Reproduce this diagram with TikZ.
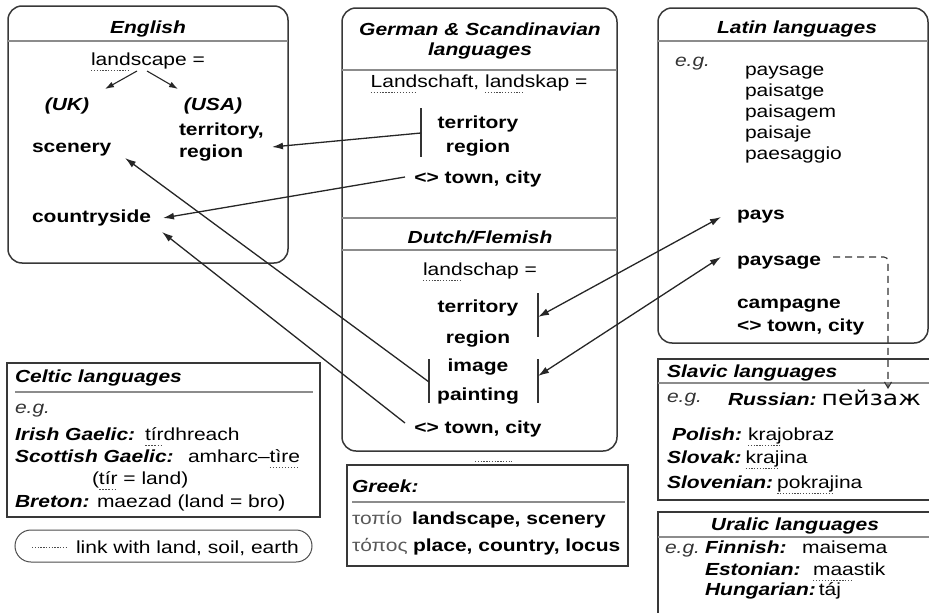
\documentclass[tikz,border=0pt]{standalone}
\usepackage{fontspec}
\setmainfont{Liberation Sans}[FakeStretch=1.2]
\newfontfamily\cyrfont{DejaVu Sans}[FakeStretch=1.22]
\usetikzlibrary{arrows.meta}
% dotted underline marking the part of a word that is linked with "land"
\newsavebox\landbox
\newcommand\landlink[1]{\leavevmode\sbox\landbox{#1}%
  \rlap{\lower5.5pt\hbox to\wd\landbox{\color{black!70}%
    \xleaders\hbox{\rule{1.3pt}{0.9pt}\kern1.5pt}\hfill}}%
  \usebox\landbox}

\begin{document}
\begin{tikzpicture}[x=1pt,y=-1pt,
  every node/.style={inner sep=0pt, outer sep=0pt},
  box/.style={draw=black!78, line width=1.5pt},
  rbox/.style={box, rounded corners=14pt},
  sep/.style={draw=black!45, line width=1.3pt},
  title/.style={font=\fontsize{17.5}{21}\selectfont\bfseries\itshape},
  term/.style={font=\fontsize{17.5}{21}\selectfont\bfseries},
  word/.style={font=\fontsize{17.5}{21}\selectfont},
  eg/.style={font=\fontsize{17.5}{21}\selectfont\itshape, text=black!80},
  greekw/.style={font=\fontsize{17.5}{21}\selectfont, text=black!65},
  bar/.style={draw=black!80, line width=1.3pt},
  link/.style={draw=black!85, line width=1.3pt},
  tip/.style={-{Latex[length=11pt,width=7pt]}},
  both/.style={{Latex[length=11pt,width=7pt]}-{Latex[length=11pt,width=7pt]}},
  land/.style={draw=black!70, line width=0.9pt, dash pattern=on 1.3pt off 1.5pt},
]
\useasboundingbox (0,0) rectangle (929,613);
\clip (0,0) rectangle (929,613);

% ---------- English ----------
\draw[rbox] (8,6) rectangle (288,263);
\draw[sep] (8,41) -- (288,41);
\node[title, anchor=base] (engT) at (148,33) {English};
\node[word, anchor=base] (engL) at (148,65) {\landlink{land}scape =};
\node[title, anchor=base] (uk) at (67,110) {(UK)};
\node[title, anchor=base] (usa) at (213,110) {(USA)};
\coordinate (ukA) at (137,71);
\coordinate (ukB) at (105,89);
\coordinate (usA) at (147,71);
\coordinate (usB) at (178,89);
\draw[link, line width=1.1pt, -{Latex[length=9pt,width=6pt]}] (ukA) -- (ukB);
\draw[link, line width=1.1pt, -{Latex[length=9pt,width=6pt]}] (usA) -- (usB);
\node[term, anchor=base west] (eterr) at (179,135) {territory,};
\node[term, anchor=base west] (ereg) at (179,157) {region};
\node[term, anchor=base west] (escen) at (32,152) {scenery};
\node[term, anchor=base west] (ecount) at (32,222) {countryside};

% ---------- German & Scandinavian / Dutch ----------
\draw[rbox] (342,8) rectangle (617,451);
\node[title, anchor=base] (gT1) at (480,35) {German \& Scandinavian};
\node[title, anchor=base] (gT2) at (480,55) {languages};
\draw[sep] (342,70) -- (617,70);
\node[word, anchor=base] (gL) at (479,87) {\landlink{Land}schaft, \landlink{land}skap =};
\draw[bar] (421,108) -- (421,157);
\node[term, anchor=base] (gterr) at (478,128) {territory};
\node[term, anchor=base] (greg) at (478,152) {region};
\node[term, anchor=base] (gtown) at (478,183) {<> town, city};

\draw[sep] (342,218) -- (617,218);
\draw[sep] (342,250) -- (617,250);
\node[title, anchor=base] (dT) at (480,243) {Dutch/Flemish};
\node[word, anchor=base] (dL) at (480,275) {\landlink{land}schap =};
\node[term, anchor=base] (dterr) at (478,312) {territory};
\node[term, anchor=base] (dreg) at (478,343) {region};
\node[term, anchor=base] (dimg) at (478,371) {image};
\node[term, anchor=base] (dpaint) at (478,400) {painting};
\node[term, anchor=base] (dtown) at (478,433) {<> town, city};
\draw[bar] (538,293) -- (538,337);
\draw[bar] (538,359) -- (538,403);
\draw[bar] (429,359) -- (429,403);
\draw[land] (475,461) -- (512,461);

% ---------- Latin ----------
\draw[rbox] (658,8) rectangle (928,343);
\node[title, anchor=base] (lT) at (797,33) {Latin languages};
\draw[sep] (658,41) -- (928,41);
\node[eg, anchor=base west] (leg) at (675,66) {e.g.};
\node[word, anchor=base west] (l1) at (745,75) {paysage};
\node[word, anchor=base west] (l2) at (745,96) {paisatge};
\node[word, anchor=base west] (l3) at (745,117) {paisagem};
\node[word, anchor=base west] (l4) at (745,138) {paisaje};
\node[word, anchor=base west] (l5) at (745,159) {paesaggio};
\node[term, anchor=base west] (lpays) at (737,219) {pays};
\node[term, anchor=base west] (lpaysage) at (737,265) {paysage};
\node[term, anchor=base west] (lcamp) at (737,308) {campagne};
\node[term, anchor=base west] (ltown) at (737,331) {<> town, city};

% ---------- Celtic ----------
\draw[box] (7,363) rectangle (320,517);
\draw[sep] (15,392) -- (313,392);
\node[title, anchor=base west] (cT) at (15,382) {Celtic languages};
\node[eg, anchor=base west] (ceg) at (15,413) {e.g.};
\node[title, anchor=base west] (cirl) at (15,440) {Irish Gaelic:};
\node[word, anchor=base west] (cirw) at (145,440) {\landlink{tír}dhreach};
\node[title, anchor=base west] (csco) at (15,462) {Scottish Gaelic:};
\node[word, anchor=base west] (cscw) at (188,462) {amharc–\landlink{tìre}};
\node[word, anchor=base west] (ctir) at (92,484) {(\landlink{tír} = land)};
\node[title, anchor=base west] (cbre) at (15,507) {Breton:};
\node[word, anchor=base west] (cbrw) at (97,507) {maezad (land = bro)};

% ---------- legend ----------
\draw[draw=black!70, line width=1pt, rounded corners=16pt] (15,530) rectangle (312,562);
\draw[land] (32,547) -- (68,547);
\node[word, anchor=base west] (legend) at (76,553) {link with land, soil, earth};

% ---------- Greek ----------
\draw[box] (347,465) rectangle (628,566);
\draw[sep] (352,502) -- (625,502);
\node[title, anchor=base west] (grT) at (352,492) {Greek:};
\node[greekw, anchor=base west] (gr1) at (352,524) {τοπίο};
\node[term, anchor=base west] (gr1m) at (412,524) {landscape, scenery};
\node[greekw, anchor=base west] (gr2) at (352,551) {τόπος};
\node[term, anchor=base west] (gr2m) at (413,551) {place, country, locus};

% ---------- Slavic ----------
\draw[box] (940,359) -- (658,359) -- (658,500) -- (940,500);
\draw[sep] (658,383) -- (940,383);
\node[title, anchor=base west] (sT) at (667,377) {Slavic languages};
\node[eg, anchor=base west] (seg) at (667,402) {e.g.};
\node[title, anchor=base west] (sru) at (728,405) {Russian:};
\node[font=\fontsize{20.5}{24}\selectfont\cyrfont, anchor=base west] (sruw) at ([xshift=5pt]sru.base east) {пейзаж};
\node[title, anchor=base west] (spl) at (672,440) {Polish:};
\node[word, anchor=base west] (splw) at (748,440) {\landlink{kraj}obraz};
\node[title, anchor=base west] (ssk) at (667,463) {Slovak:};
\node[word, anchor=base west] (sskw) at ([xshift=4pt]ssk.base east) {\landlink{kraj}ina};
\node[title, anchor=base west] (ssl) at (667,488) {Slovenian:};
\node[word, anchor=base west] (sslw) at ([xshift=4pt]ssl.base east) {\landlink{pokraj}ina};

% ---------- Uralic ----------
\draw[box] (940,512) -- (658,512) -- (658,630);
\draw[sep] (658,537) -- (940,537);
\node[title, anchor=base] (uT) at (795,530) {Uralic languages};
\node[eg, anchor=base west] (ueg) at (665,553) {e.g.};
\node[title, anchor=base west] (ufi) at (705,553) {Finnish:};
\node[word, anchor=base west] (ufiw) at (802,553) {maisema};
\node[title, anchor=base west] (ues) at (705,575) {Estonian:};
\node[word, anchor=base west] (uesw) at (813,575) {\landlink{maa}stik};
\node[title, anchor=base west] (uhu) at (705,595) {Hungarian:};
\node[word, anchor=base west] (uhuw) at ([xshift=3pt]uhu.base east) {táj};

% ---------- connectors ----------
\coordinate (gbar) at (421,133);
\coordinate (gtownL) at (405,177);
\coordinate (dimgbar) at (429,382);
\coordinate (dtownL) at (405,423);
\coordinate (eterrR) at (272,147);
\coordinate (escenR) at (125,158);
\coordinate (ecountA) at (163,218);
\coordinate (ecountB) at (162,232);
\coordinate (dterrbar) at (538,317);
\coordinate (dimgbarR) at (538,376);
\coordinate (lpaysL) at (721,217);
\coordinate (lpaysageL) at (721,257);
\coordinate (lpaysageR) at (833,257);
\coordinate (ruTop) at (888,389);

\draw[link, tip] (gbar) -- (eterrR);
\draw[link, tip] (gtownL) -- (ecountA);
\draw[link, tip] (dimgbar) -- (escenR);
\draw[link, tip] (dtownL) -- (ecountB);
\draw[link, both] (dterrbar) -- (lpaysL);
\draw[link, both] (dimgbarR) -- (lpaysageL);
\draw[draw=black!80, line width=1.1pt, dash pattern=on 7pt off 5pt, rounded corners=4pt,
      -{Straight Barb[length=6pt,width=7pt]}] (lpaysageR) -| (ruTop);
\end{tikzpicture}
\end{document}
